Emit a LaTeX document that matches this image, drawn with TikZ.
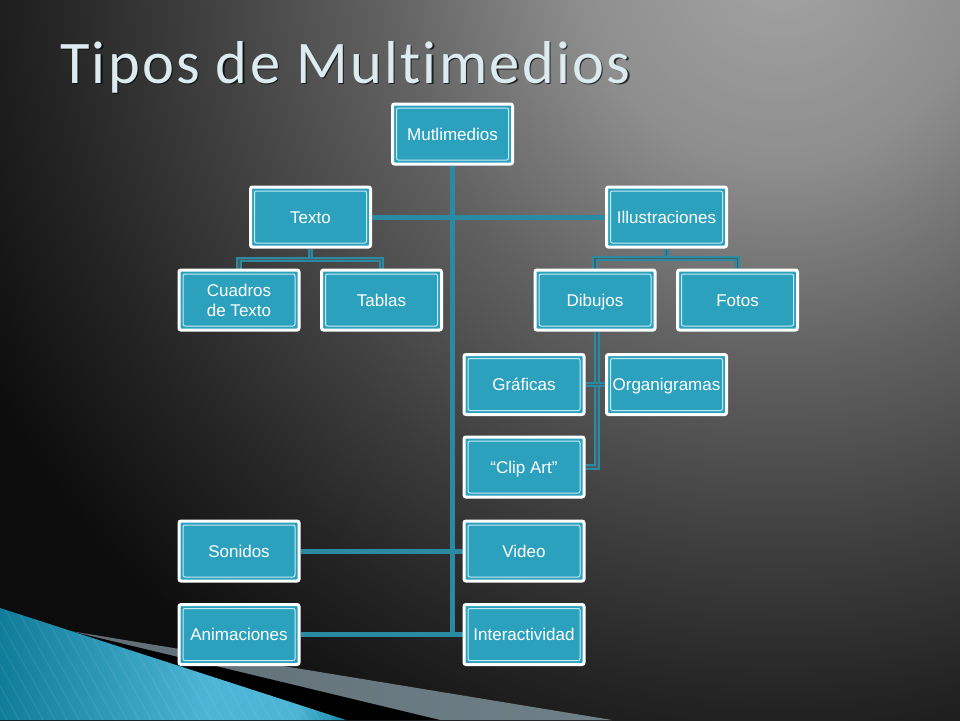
\documentclass[tikz,border=0pt]{standalone}
\usepackage{fontspec}
\setmainfont{Liberation Sans}
\newfontfamily\titlefont[LetterSpace=3.8,Ligatures=NoCommon]{Carlito}
\usetikzlibrary{calc}
\pgfdeclarelayer{bg}
\pgfdeclarelayer{conn}
\pgfsetlayers{bg,conn,main}
\definecolor{bgA}{HTML}{A4A4A4}
\definecolor{bgB}{HTML}{8E8E8E}
\definecolor{bgC}{HTML}{616161}
\definecolor{bgD}{HTML}{3C3C3C}
\definecolor{bgE}{HTML}{242424}
\definecolor{bgF}{HTML}{0C0C0C}
\definecolor{boxfill}{HTML}{2CA1BE}
\definecolor{boxline}{HTML}{C9E9F1}
\definecolor{connc}{HTML}{2A8AA4}
\definecolor{subinner}{HTML}{4E5B60}
\definecolor{titlec}{HTML}{DCEBEF}
\definecolor{grayband}{HTML}{5E6C72}
\definecolor{grayband2}{HTML}{6F8088}
\definecolor{blueA}{HTML}{0F7C9A}
\definecolor{blueB}{HTML}{4DB5D5}
\definecolor{blueC}{HTML}{1688A8}
\pgfdeclareradialshading{bgshade}{\pgfpoint{0bp}{0bp}}{color(0bp)=(bgA); color(4.2bp)=(bgB); color(8.3bp)=(bgC); color(12.5bp)=(bgD); color(15.4bp)=(bgE); color(18.8bp)=(bgF); color(25bp)=(bgF); color(50bp)=(bgF)}
\pgfdeclarehorizontalshading{blueshade}{100bp}{color(0bp)=(blueA); color(25bp)=(blueA); color(55bp)=(blueB); color(68bp)=(blueB); color(75bp)=(blueC); color(100bp)=(blueC)}
\tikzset{
  box/.style={rectangle, rounded corners=2pt, draw=white, line width=3pt, fill=boxfill,
    minimum width=120pt, minimum height=60pt, inner sep=1pt, text=white, align=center,
    text height=12pt, text depth=0pt,
    font=\fontsize{17}{20}\selectfont,
    path picture={\draw[boxline, line width=1pt]
      ([shift={(4pt,-4pt)}]path picture bounding box.north west) rectangle
      ([shift={(-4pt,4pt)}]path picture bounding box.south east);}},
  conn/.style={draw=connc, line width=5pt},
  subconn/.style={draw=connc, line width=1.9pt, double=subinner, double distance=1.6pt},
  stripe/.style={white, opacity=0.07, line width=1.2pt},
}
\begin{document}
\begin{tikzpicture}[x=1pt, y=-1pt]
\useasboundingbox (0,0) rectangle (960,720);
\begin{pgfonlayer}{bg}
  \fill[bgF] (0,0) rectangle (960,720);
  \begin{scope}
    \clip (0,0) rectangle (960,720);
    \shade[shading=bgshade] (780,-40) circle (1200pt);
  \end{scope}
  \shade[left color=grayband, right color=grayband2] (70,631) -- (612,720) -- (0,720) -- cycle;
  \fill[black] (70,631) -- (440,720) -- (0,720) -- cycle;
  \shade[shading=blueshade] (0,608) -- (346,720) -- (0,720) -- cycle;
  \begin{scope}
    \clip (0,608) -- (346,720) -- (0,720) -- cycle;
    \foreach \s in {-120,-108,...,360} {
      \draw[stripe] (\s,600) -- ++(70,125);
    }
  \end{scope}
\end{pgfonlayer}

\node[anchor=base west, text=black, opacity=0.7, font=\titlefont\fontsize{60.5}{64}\selectfont, inner sep=0pt] (titleshadow) at (61.5,84.5) {Tipos de Multimedios};
\node[anchor=base west, text=titlec, font=\titlefont\fontsize{60.5}{64}\selectfont, inner sep=0pt] (title) at (60,83) {Tipos de Multimedios};

\node[box] (mult) at (452.5,134) {Mutlimedios};
\node[box] (texto) at (310.5,217) {Texto};
\node[box] (ilus) at (666.5,217) {Illustraciones};
\node[box, text height=32pt] (cuadros) at (239,300) {Cuadros\\de Texto};
\node[box] (tablas) at (381.5,300) {Tablas};
\node[box] (dibujos) at (595,300) {Dibujos};
\node[box] (fotos) at (737.5,300) {Fotos};
\node[box] (graficas) at (524,384.5) {Gráficas};
\node[box] (organi) at (666.5,384.5) {Organigramas};
\node[box] (clipart) at (524,467) {“Clip Art”};
\node[box] (sonidos) at (239,551) {Sonidos};
\node[box] (video) at (524,551) {Video};
\node[box] (anim) at (239,634.5) {Animaciones};
\node[box] (inter) at (524,634.5) {Interactividad};

\coordinate (tend) at (mult.south |- anim.east);
\coordinate (tbus) at ($(texto.south)+(0,11)$);
\coordinate (ibus) at ($(ilus.south)+(0,10)$);
\coordinate (dx) at ($(dibujos.south)+(2,0)$);

\begin{pgfonlayer}{conn}
  \draw[conn] (mult.south) -- (tend);
  \draw[conn] (texto.east) -- (ilus.west);
  \draw[conn] (sonidos.east) -- (video.west);
  \draw[conn] (anim.east) -- (tend) -- (inter.west);
  \draw[subconn] (texto.south) -- (tbus);
  \draw[subconn] (tbus) -| (cuadros.north);
  \draw[subconn] (tbus) -| (tablas.north);
  \draw[subconn] (ilus.south) -- (ibus);
  \draw[subconn] (ibus) -| (dibujos.north);
  \draw[subconn] (ibus) -| (fotos.north);
  \draw[subconn] (dx) -- (dx |- clipart.east) -- (clipart.east);
  \draw[subconn] (graficas.east) -- (organi.west);
\end{pgfonlayer}
\end{tikzpicture}
\end{document}
